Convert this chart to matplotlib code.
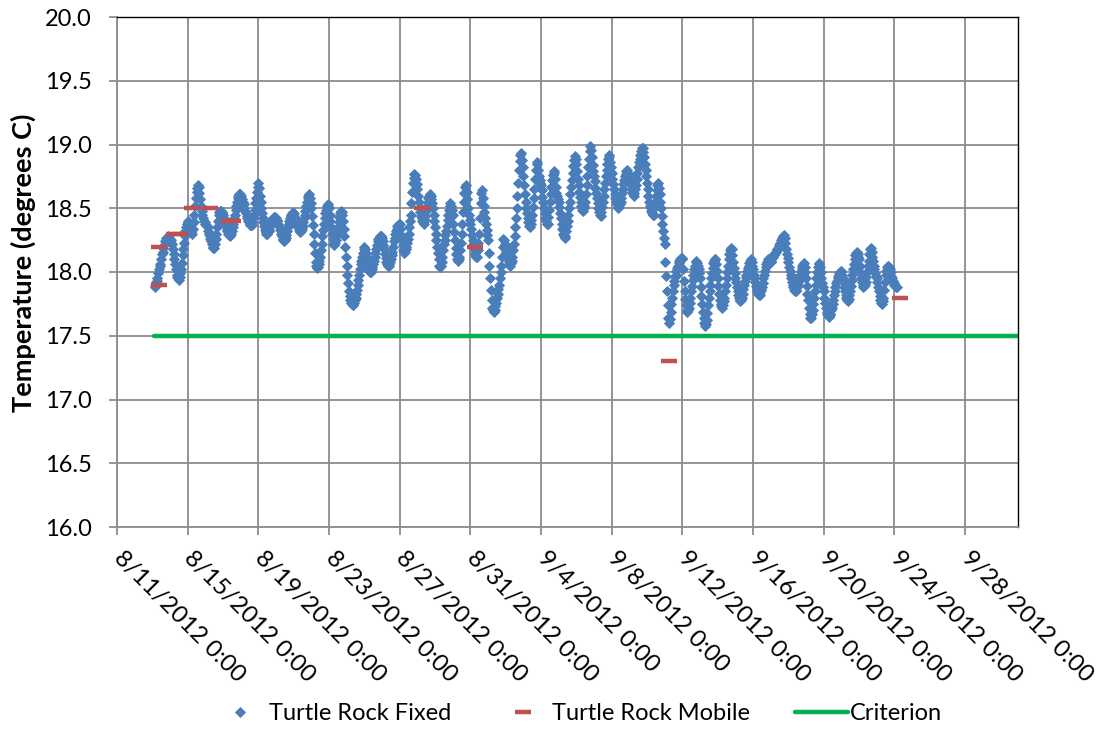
import numpy as np
import pandas as pd
import matplotlib
matplotlib.use('Agg')
import matplotlib.pyplot as plt
from matplotlib.ticker import FormatStrFormatter

plt.rcParams['font.family'] = ['Lato', 'DejaVu Sans']

# fixed logger, hourly readings starting 8/13/2012 3:00 (one row per day)
week1 = [
    17.90, 17.88, 17.92, 17.95, 17.93, 17.99, 18.02, 18.06, 18.05, 18.10, 18.14, 18.16,
    18.19, 18.21, 18.24, 18.25, 18.27, 18.26, 18.28, 18.27, 18.26,                       # 8/13
    18.26, 18.25, 18.23, 18.22, 18.18, 18.14, 18.10, 18.06, 18.02, 17.98, 17.96, 17.95,
    17.94, 17.96, 17.99, 18.02, 18.07, 18.13, 18.18, 18.23, 18.28, 18.32, 18.35, 18.38,  # 8/14
    18.40, 18.39, 18.37, 18.36, 18.34, 18.31, 18.30, 18.34, 18.39, 18.45, 18.52, 18.58,
    18.63, 18.66, 18.68, 18.67, 18.62, 18.57, 18.52, 18.48, 18.45, 18.42, 18.40, 18.39,  # 8/15
    18.38, 18.37, 18.36, 18.35, 18.32, 18.30, 18.28, 18.26, 18.24, 18.22, 18.20, 18.19,
    18.19, 18.22, 18.26, 18.30, 18.35, 18.40, 18.45, 18.47, 18.48, 18.48, 18.47, 18.46,  # 8/16
    18.45, 18.42, 18.40, 18.38, 18.36, 18.34, 18.32, 18.30, 18.29, 18.28, 18.29, 18.30,
    18.32, 18.35, 18.38, 18.42, 18.45, 18.49, 18.52, 18.55, 18.58, 18.60, 18.61, 18.61,  # 8/17
    18.60, 18.58, 18.57, 18.55, 18.53, 18.50, 18.48, 18.46, 18.44, 18.42, 18.40, 18.39,
    18.38, 18.37, 18.37, 18.37, 18.39, 18.42, 18.45, 18.49, 18.54, 18.58, 18.63, 18.67,  # 8/18
    18.70, 18.66, 18.60, 18.55, 18.50, 18.46, 18.42, 18.39, 18.36, 18.33, 18.31, 18.30,
    18.30, 18.31, 18.32, 18.34, 18.36, 18.38, 18.40, 18.41, 18.42, 18.43, 18.43, 18.42,  # 8/19
]
week2 = [
    18.42, 18.41, 18.40, 18.38, 18.36, 18.35, 18.33, 18.30, 18.28, 18.26, 18.25, 18.24,
    18.25, 18.27, 18.29, 18.32, 18.35, 18.38, 18.40, 18.42, 18.44, 18.45, 18.46, 18.46,  # 8/20
    18.46, 18.44, 18.42, 18.40, 18.38, 18.36, 18.35, 18.33, 18.32, 18.31, 18.32, 18.34,
    18.36, 18.39, 18.42, 18.45, 18.48, 18.52, 18.55, 18.58, 18.60, 18.61, 18.58, 18.54,  # 8/21
    18.50, 18.44, 18.37, 18.30, 18.22, 18.15, 18.08, 18.05, 18.03, 18.04, 18.06, 18.09,
    18.12, 18.17, 18.22, 18.28, 18.33, 18.38, 18.42, 18.46, 18.49, 18.52, 18.53, 18.52,  # 8/22
    18.50, 18.45, 18.40, 18.35, 18.30, 18.26, 18.22, 18.21, 18.23, 18.25, 18.28, 18.31,
    18.35, 18.39, 18.43, 18.46, 18.48, 18.47, 18.45, 18.40, 18.34, 18.28, 18.20, 18.12,  # 8/23
    18.05, 17.98, 17.91, 17.85, 17.81, 17.78, 17.76, 17.75, 17.74, 17.74, 17.76, 17.78,
    17.80, 17.83, 17.86, 17.90, 17.94, 17.98, 18.02, 18.06, 18.09, 18.12, 18.15, 18.18,  # 8/24
    18.20, 18.18, 18.15, 18.12, 18.08, 18.05, 18.02, 18.01, 18.00, 18.00, 18.02, 18.04,
    18.06, 18.09, 18.12, 18.15, 18.18, 18.21, 18.24, 18.26, 18.27, 18.28, 18.28, 18.28,  # 8/25
    18.27, 18.24, 18.21, 18.18, 18.14, 18.11, 18.08, 18.06, 18.05, 18.05, 18.06, 18.08,
    18.10, 18.13, 18.16, 18.20, 18.24, 18.27, 18.30, 18.32, 18.34, 18.36, 18.37, 18.38,  # 8/26
]
week3 = [
    18.38, 18.34, 18.29, 18.25, 18.21, 18.17, 18.15, 18.16, 18.18, 18.20, 18.23, 18.26,
    18.30, 18.35, 18.40, 18.45, 18.54, 18.63, 18.70, 18.74, 18.77, 18.76, 18.73, 18.69,  # 8/27
    18.65, 18.60, 18.55, 18.50, 18.47, 18.44, 18.42, 18.40, 18.39, 18.38, 18.41, 18.44,
    18.48, 18.52, 18.55, 18.58, 18.60, 18.61, 18.60, 18.57, 18.54, 18.50, 18.45, 18.40,  # 8/28
    18.35, 18.30, 18.25, 18.20, 18.15, 18.10, 18.05, 18.04, 18.05, 18.08, 18.12, 18.17,
    18.22, 18.25, 18.29, 18.32, 18.36, 18.41, 18.45, 18.49, 18.52, 18.54, 18.52, 18.49,  # 8/29
    18.45, 18.38, 18.31, 18.25, 18.19, 18.14, 18.10, 18.09, 18.10, 18.12, 18.17, 18.23,
    18.30, 18.38, 18.47, 18.55, 18.62, 18.67, 18.68, 18.63, 18.57, 18.50, 18.45, 18.41,  # 8/30
    18.38, 18.34, 18.29, 18.25, 18.21, 18.18, 18.15, 18.13, 18.12, 18.12, 18.17, 18.23,
    18.30, 18.42, 18.54, 18.62, 18.64, 18.58, 18.52, 18.47, 18.42, 18.38, 18.33, 18.29,  # 8/31
    18.25, 18.15, 18.05, 17.95, 17.86, 17.78, 17.72, 17.70, 17.69, 17.70, 17.73, 17.76,
    17.80, 17.83, 17.87, 17.90, 17.95, 18.00, 18.05, 18.12, 18.20, 18.26, 18.25, 18.22,  # 9/1
    18.20, 18.16, 18.13, 18.10, 18.08, 18.06, 18.05, 18.07, 18.09, 18.12, 18.17, 18.22,
    18.28, 18.35, 18.42, 18.50, 18.60, 18.70, 18.80, 18.87, 18.92, 18.93, 18.88, 18.82,  # 9/2
]
week4 = [
    18.75, 18.68, 18.61, 18.55, 18.50, 18.46, 18.42, 18.39, 18.36, 18.35, 18.38, 18.41,
    18.45, 18.51, 18.58, 18.65, 18.73, 18.80, 18.86, 18.85, 18.80, 18.75, 18.72, 18.70,  # 9/3
    18.68, 18.64, 18.59, 18.55, 18.50, 18.46, 18.42, 18.40, 18.38, 18.38, 18.43, 18.49,
    18.55, 18.61, 18.67, 18.72, 18.76, 18.79, 18.78, 18.73, 18.67, 18.62, 18.60, 18.57,  # 9/4
    18.55, 18.51, 18.46, 18.42, 18.38, 18.34, 18.30, 18.28, 18.27, 18.28, 18.32, 18.36,
    18.40, 18.45, 18.50, 18.55, 18.61, 18.67, 18.72, 18.78, 18.83, 18.88, 18.91, 18.89,  # 9/5
    18.85, 18.79, 18.73, 18.68, 18.63, 18.59, 18.55, 18.52, 18.49, 18.48, 18.50, 18.52,
    18.55, 18.61, 18.68, 18.75, 18.82, 18.89, 18.95, 18.99, 18.96, 18.90, 18.84, 18.79,  # 9/6
    18.75, 18.71, 18.66, 18.62, 18.58, 18.54, 18.50, 18.47, 18.45, 18.44, 18.47, 18.51,
    18.55, 18.60, 18.65, 18.70, 18.75, 18.80, 18.85, 18.89, 18.92, 18.90, 18.86, 18.82,  # 9/7
    18.78, 18.73, 18.69, 18.65, 18.61, 18.58, 18.55, 18.53, 18.51, 18.50, 18.51, 18.53,
    18.55, 18.58, 18.62, 18.65, 18.69, 18.72, 18.75, 18.77, 18.79, 18.80, 18.78, 18.76,  # 9/8
    18.75, 18.71, 18.68, 18.65, 18.63, 18.61, 18.60, 18.62, 18.65, 18.68, 18.73, 18.78,
    18.82, 18.86, 18.89, 18.92, 18.95, 18.97, 18.97, 18.94, 18.90, 18.85, 18.80, 18.75,  # 9/9
]
week5 = [
    18.70, 18.65, 18.60, 18.55, 18.52, 18.50, 18.48, 18.46, 18.45, 18.45, 18.50, 18.55,
    18.60, 18.64, 18.68, 18.70, 18.66, 18.61, 18.55, 18.50, 18.44, 18.38, 18.32, 18.27,  # 9/10
    18.22, 18.08, 17.97, 17.85, 17.74, 17.64, 17.60, 17.63, 17.69, 17.75, 17.80, 17.85,
    17.90, 17.93, 17.96, 17.98, 18.01, 18.03, 18.05, 18.07, 18.09, 18.10, 18.11, 18.11,  # 9/11
    18.10, 18.02, 17.93, 17.85, 17.79, 17.74, 17.70, 17.69, 17.70, 17.72, 17.76, 17.80,
    17.85, 17.89, 17.94, 17.98, 18.02, 18.05, 18.08, 18.09, 18.07, 18.05, 18.02, 17.99,  # 9/12
    17.95, 17.88, 17.81, 17.75, 17.69, 17.64, 17.60, 17.58, 17.59, 17.62, 17.68, 17.74,
    17.80, 17.85, 17.90, 17.95, 17.99, 18.03, 18.07, 18.09, 18.10, 18.10, 18.06, 18.01,  # 9/13
    17.95, 17.89, 17.83, 17.78, 17.75, 17.73, 17.72, 17.74, 17.77, 17.80, 17.85, 17.90,
    17.95, 18.00, 18.05, 18.10, 18.14, 18.17, 18.19, 18.18, 18.13, 18.08, 18.03, 17.99,  # 9/14
    17.95, 17.92, 17.88, 17.85, 17.82, 17.80, 17.78, 17.77, 17.78, 17.80, 17.83, 17.87,
    17.90, 17.93, 17.96, 17.98, 18.01, 18.03, 18.05, 18.07, 18.09, 18.10, 18.08, 18.05,  # 9/15
    18.02, 17.98, 17.95, 17.92, 17.89, 17.87, 17.85, 17.83, 17.82, 17.82, 17.84, 17.86,
    17.88, 17.91, 17.95, 17.98, 18.01, 18.04, 18.06, 18.08, 18.09, 18.10, 18.10, 18.09,  # 9/16
]
week6 = [
    18.08, 18.09, 18.11, 18.12, 18.13, 18.14, 18.15, 18.16, 18.17, 18.18, 18.19, 18.21,
    18.22, 18.23, 18.25, 18.26, 18.27, 18.28, 18.29, 18.27, 18.23, 18.18, 18.14, 18.11,  # 9/17
    18.08, 18.04, 18.01, 17.98, 17.95, 17.92, 17.90, 17.88, 17.86, 17.85, 17.85, 17.86,
    17.88, 17.90, 17.93, 17.95, 17.98, 18.01, 18.03, 18.05, 18.06, 18.07, 18.04, 18.00,  # 9/18
    17.95, 17.89, 17.83, 17.78, 17.72, 17.67, 17.64, 17.64, 17.67, 17.70, 17.75, 17.80,
    17.85, 17.90, 17.95, 18.00, 18.04, 18.06, 18.07, 18.04, 18.00, 17.95, 17.91, 17.88,  # 9/19
    17.85, 17.80, 17.76, 17.72, 17.69, 17.67, 17.66, 17.65, 17.66, 17.67, 17.70, 17.72,
    17.75, 17.78, 17.82, 17.85, 17.88, 17.91, 17.93, 17.95, 17.97, 17.99, 18.00, 18.01,  # 9/20
    18.01, 17.98, 17.95, 17.92, 17.88, 17.85, 17.82, 17.80, 17.78, 17.77, 17.79, 17.82,
    17.85, 17.89, 17.94, 17.98, 18.02, 18.06, 18.10, 18.13, 18.15, 18.16, 18.14, 18.12,  # 9/21
    18.10, 18.05, 18.00, 17.95, 17.92, 17.90, 17.88, 17.89, 17.90, 17.92, 17.96, 18.00,
    18.05, 18.09, 18.14, 18.18, 18.19, 18.16, 18.12, 18.09, 18.05, 18.02, 17.99, 17.97,  # 9/22
    17.95, 17.92, 17.88, 17.85, 17.81, 17.78, 17.76, 17.75, 17.77, 17.80, 17.86, 17.92,
    17.98, 18.01, 18.04, 18.05, 18.05, 18.04, 18.02, 18.00, 17.97, 17.95, 17.93, 17.91,  # 9/23
    17.90, 17.89, 17.88, 17.88,                                                          # 9/24
]

# mobile spot readings
mobile_time = ['2012-08-13 08:30', '2012-08-13 08:30', '2012-08-14 06:00',
               '2012-08-14 13:00', '2012-08-15 06:30', '2012-08-16 07:00',
               '2012-08-17 07:30', '2012-08-17 13:00', '2012-08-28 06:15',
               '2012-08-31 07:00', '2012-09-11 06:30', '2012-09-24 07:30']
mobile_temp = [17.9, 18.2, 18.3, 18.3, 18.5, 18.5, 18.4, 18.4, 18.5, 18.2, 17.3, 17.8]

criterion_time = ['2012-08-13 02:00', '2012-10-01 00:00']
criterion_temp = [17.5, 17.5]

tick_days = ['8/11/2012', '8/15/2012', '8/19/2012', '8/23/2012', '8/27/2012',
             '8/31/2012', '9/4/2012', '9/8/2012', '9/12/2012', '9/16/2012',
             '9/20/2012', '9/24/2012', '9/28/2012']

fixed_temp = week1 + week2 + week3 + week4 + week5 + week6
fixed_time = pd.date_range('2012-08-13 03:00', periods=len(fixed_temp), freq='1h')

fig = plt.figure(figsize=(11.06, 7.31), dpi=100)
ax = fig.add_axes([117/1106, 1 - 527/731, 901/1106, 510/731])

grid_col = '#8C8C8C'
ax.grid(True, color=grid_col, lw=1.3)
ax.set_axisbelow(True)

fx, = ax.plot(fixed_time, fixed_temp, ls='none', marker='D', ms=5.0, mew=0.6,
              color='#4A7EBB', mec='#4A7EBB', label='Turtle Rock Fixed')
mb, = ax.plot(pd.to_datetime(mobile_time), mobile_temp, ls='none', marker='_',
              ms=11, mew=3.2, color='#C0504D', label='Turtle Rock Mobile')
cr, = ax.plot(pd.to_datetime(criterion_time), criterion_temp, color='#00B050',
              lw=3.2, solid_capstyle='round', label='Criterion')

ax.set_ylim(16, 20)
ax.set_yticks(np.arange(16, 20.01, 0.5))
ax.yaxis.set_major_formatter(FormatStrFormatter('%.1f'))

ticks = pd.to_datetime(tick_days, format='%m/%d/%Y')
ax.set_xlim(pd.Timestamp('2012-08-11'), pd.Timestamp('2012-10-01'))
ax.set_xticks(ticks)
ax.set_xticklabels([d + ' 0:00' for d in tick_days])

for s in ['left', 'bottom']:
    ax.spines[s].set_color(grid_col)
    ax.spines[s].set_linewidth(1.3)
for s in ['top', 'right']:
    ax.spines[s].set_color('black')
    ax.spines[s].set_linewidth(1.0)

ax.tick_params(axis='both', direction='out', length=6, width=1.3,
               color=grid_col, labelsize=17)
ax.tick_params(axis='y', pad=12)
ax.tick_params(axis='x', pad=14, labelsize=17.5)
for lbl in ax.get_xticklabels():
    lbl.set_rotation(-45)
    lbl.set_ha('left')
    lbl.set_va('center')
    lbl.set_rotation_mode('anchor')

fig.text(23/1106, 1 - 263/731, 'Temperature (degrees C)', rotation=90,
         ha='center', va='center', fontsize=19.5, fontweight='bold')

fig.legend(handles=[fx, mb, cr], loc='center', bbox_to_anchor=(578/1106, 1 - 714/731),
           ncol=3, frameon=False, fontsize=17, handlelength=2.25,
           handletextpad=0.1, columnspacing=1.9)

fig.savefig('out.png', dpi=100)
